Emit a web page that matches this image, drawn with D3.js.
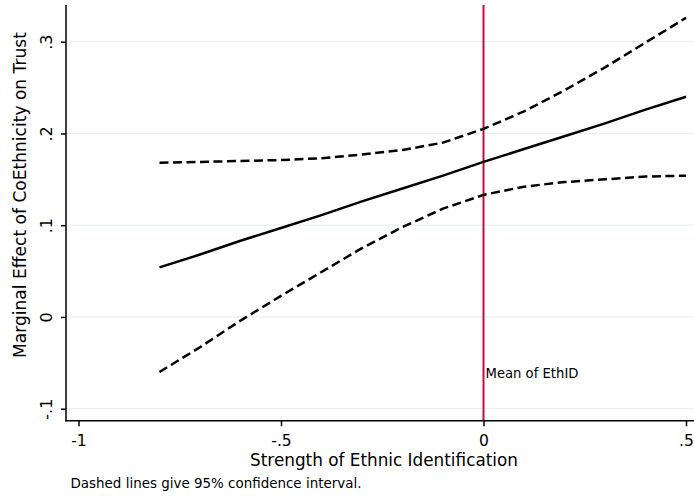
<!DOCTYPE html>
<html>
<head>
<meta charset="utf-8">
<script src="https://cdn.jsdelivr.net/npm/d3@7"></script>
<style>
  html, body { margin: 0; padding: 0; background: #fff; }
  svg { display: block; }
  text { font-family: "DejaVu Sans", Verdana, sans-serif; fill: #000; }
</style>
</head>
<body>
<svg id="chart" width="694" height="496"></svg>
<script>
// Strength of ethnic identification (centered) at which the effect is evaluated
const ethId = [-0.8, -0.7, -0.6, -0.5, -0.4, -0.3, -0.2, -0.1, 0, 0.1, 0.2, 0.3, 0.4, 0.5];
// Marginal effect of co-ethnicity on trust
const effect = [0.054, 0.068, 0.083, 0.097, 0.111, 0.126, 0.140, 0.154, 0.169, 0.183, 0.197, 0.211, 0.226, 0.240];
// 95% confidence bounds
const upper = [0.168, 0.169, 0.170, 0.171, 0.173, 0.177, 0.182, 0.190, 0.205, 0.224, 0.247, 0.272, 0.299, 0.326];
const lower = [-0.060, -0.033, -0.004, 0.023, 0.049, 0.075, 0.098, 0.118, 0.133, 0.142, 0.147, 0.150, 0.153, 0.154];

const xTicks = [-1, -0.5, 0, 0.5];
const xTickLabels = ["-1", "-.5", "0", ".5"];
const yTicks = [-0.1, 0, 0.1, 0.2, 0.3];
const yTickLabels = ["-.1", "0", ".1", ".2", ".3"];
const meanEthId = 0;

const svg = d3.select("#chart");

// plot frame
const frame = { left: 66, right: 694, top: 5, bottom: 420.7 };

const x = d3.scaleLinear().domain([-1, 0.5]).range([78.5, 686]);
const y = d3.scaleLinear().domain([-0.1, 0.3]).range([408.7, 41.7]);

// shrink or grow a text so it spans the given width
function fitWidth(sel, width, base) {
  sel.attr("font-size", base);
  const w = sel.node().getComputedTextLength();
  if (w > 0) sel.attr("font-size", base * width / w);
  return sel;
}

// horizontal grid
svg.append("g")
  .selectAll("line")
  .data(yTicks)
  .join("line")
  .attr("x1", frame.left).attr("x2", frame.right)
  .attr("y1", d => y(d)).attr("y2", d => y(d))
  .attr("stroke", "#e8f0f2")
  .attr("stroke-width", 1.3);

// reference line at the mean
svg.append("line")
  .attr("x1", x(meanEthId)).attr("x2", x(meanEthId))
  .attr("y1", frame.top).attr("y2", frame.bottom)
  .attr("stroke", "#c0103a")
  .attr("stroke-width", 2);

fitWidth(svg.append("text")
  .attr("x", x(meanEthId) + 2)
  .attr("y", 378)
  .text("Mean of EthID"), 93, 12);

const rows = ethId.map((v, i) => ({ x: v, m: effect[i], u: upper[i], l: lower[i] }));
const line = key => d3.line().x(d => x(d.x)).y(d => y(d[key]));

svg.append("path")
  .datum(rows)
  .attr("d", line("m"))
  .attr("fill", "none")
  .attr("stroke", "#000")
  .attr("stroke-width", 2.5);

["u", "l"].forEach(k => {
  svg.append("path")
    .datum(rows)
    .attr("d", line(k))
    .attr("fill", "none")
    .attr("stroke", "#000")
    .attr("stroke-width", 2.5)
    .attr("stroke-dasharray", "9,4.5");
});

// axes
const xAxis = d3.axisBottom(x)
  .tickValues(xTicks)
  .tickSize(5.5)
  .tickPadding(0)
  .tickFormat((d, i) => xTickLabels[i]);

const gx = svg.append("g")
  .attr("transform", `translate(0,${frame.bottom})`)
  .call(xAxis);
gx.select(".domain").remove();
gx.selectAll(".tick line").attr("stroke", "#000").attr("stroke-width", 1.5);
gx.selectAll(".tick text")
  .attr("font-size", 15.5)
  .attr("dy", null)
  .attr("y", 25);

const yAxis = d3.axisLeft(y)
  .tickValues(yTicks)
  .tickSize(5)
  .tickFormat((d, i) => yTickLabels[i]);

const gy = svg.append("g")
  .attr("transform", `translate(${frame.left},0)`)
  .call(yAxis);
gy.select(".domain").remove();
gy.selectAll(".tick line").attr("stroke", "#000").attr("stroke-width", 1.5);
gy.selectAll(".tick text")
  .attr("font-size", 16)
  .attr("x", null).attr("dy", null)
  .attr("text-anchor", "middle")
  .attr("transform", "translate(-14.5,0) rotate(-90)");

svg.append("line")
  .attr("x1", frame.left).attr("x2", frame.left)
  .attr("y1", frame.top).attr("y2", frame.bottom + 0.7)
  .attr("stroke", "#000").attr("stroke-width", 1.5);
svg.append("line")
  .attr("x1", frame.left - 0.7).attr("x2", frame.right)
  .attr("y1", frame.bottom).attr("y2", frame.bottom)
  .attr("stroke", "#000").attr("stroke-width", 1.5);

// titles
fitWidth(svg.append("text")
  .attr("x", 384).attr("y", 465.5)
  .attr("text-anchor", "middle")
  .text("Strength of Ethnic Identification"), 268, 16);

fitWidth(svg.append("text")
  .attr("transform", "translate(26,195) rotate(-90)")
  .attr("text-anchor", "middle")
  .text("Marginal Effect of CoEthnicity on Trust"), 326, 16);

fitWidth(svg.append("text")
  .attr("x", 70.5).attr("y", 487.5)
  .text("Dashed lines give 95% confidence interval."), 291, 13);
</script>
</body>
</html>
